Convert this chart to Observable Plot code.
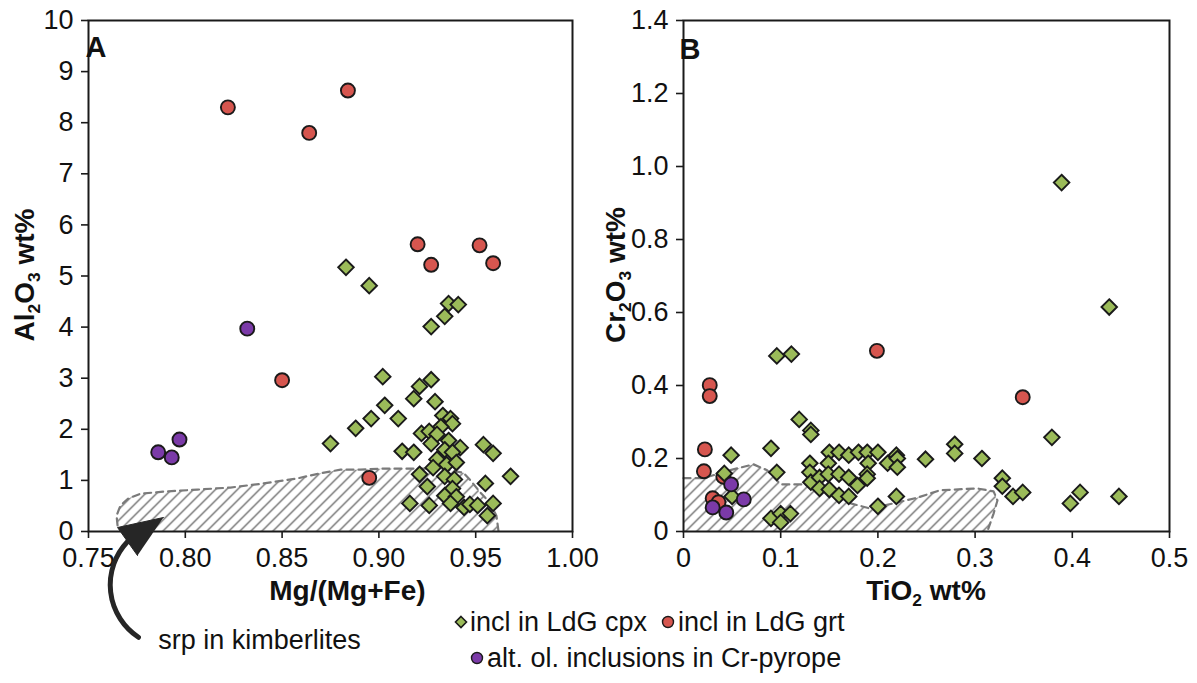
<!DOCTYPE html>
<html>
<head>
<meta charset="utf-8">
<script src="https://cdn.jsdelivr.net/npm/d3@7"></script>
<script src="https://cdn.jsdelivr.net/npm/@observablehq/plot@0.6"></script>
<style>
  html, body { margin: 0; padding: 0; background: #fff; }
  body { font-family: "Liberation Sans", Arial, Helvetica, sans-serif; color: #111; }
  #wrap { position: relative; width: 1197px; height: 683px; overflow: hidden; }
  #panelA { position: absolute; left: 0; top: 0; }
  #panelB { position: absolute; left: 600px; top: 0; }
  .lgt { position: absolute; font-size: 27px; line-height: 30px; white-space: nowrap; z-index: 5; }
  .lgi { position: absolute; z-index: 5; }
</style>
</head>
<body>
<div id="wrap">
  <div id="panelA"></div>
  <div id="panelB"></div>
  <svg class="lgi" style="left:454px;top:615px" width="14" height="14"><path d="M7 1.5 L12.5 7 L7 12.5 L1.5 7Z" fill="#9bbb59" stroke="#1a1a1a" stroke-width="1.6"/></svg>
  <span class="lgt" style="left:470px;top:607px">incl in LdG cpx</span>
  <svg class="lgi" style="left:661px;top:615px" width="14" height="14"><circle cx="7" cy="7" r="5.5" fill="#d6564f" stroke="#1a1a1a" stroke-width="1.4"/></svg>
  <span class="lgt" style="left:678px;top:607px">incl in LdG grt</span>
  <svg class="lgi" style="left:470px;top:651px" width="14" height="14"><circle cx="7" cy="7" r="5.5" fill="#7b3aa8" stroke="#1a1a1a" stroke-width="1.4"/></svg>
  <span class="lgt" style="left:487px;top:643px">alt. ol. inclusions in Cr-pyrope</span>
</div>
<script>
// ---------------- DATA ----------------
// Panel A: Mg/(Mg+Fe) vs Al2O3 wt%
const cpxA = [
  [0.883,5.17],[0.895,4.81],[0.936,4.46],[0.941,4.44],[0.934,4.21],[0.927,4.01],
  [0.902,3.03],[0.927,2.97],[0.921,2.84],[0.918,2.60],[0.929,2.54],[0.903,2.47],
  [0.896,2.21],[0.910,2.21],[0.888,2.02],[0.875,1.72],
  [0.933,2.27],[0.937,2.21],[0.938,2.11],[0.932,2.05],[0.922,1.92],[0.926,1.96],
  [0.930,1.90],[0.927,1.72],[0.936,1.78],[0.942,1.64],[0.934,1.60],[0.938,1.55],
  [0.954,1.70],[0.959,1.53],[0.912,1.57],[0.918,1.55],[0.930,1.41],[0.928,1.25],
  [0.935,1.31],[0.940,1.35],[0.921,1.12],[0.934,1.08],[0.939,1.02],[0.968,1.08],
  [0.925,0.88],[0.938,0.84],[0.955,0.94],[0.916,0.55],[0.926,0.51],[0.934,0.70],
  [0.940,0.68],[0.937,0.55],[0.944,0.47],[0.947,0.53],[0.951,0.51],[0.959,0.55],
  [0.956,0.31]
];
const grtA = [
  [0.822,8.30],[0.884,8.63],[0.864,7.80],[0.920,5.62],[0.927,5.22],
  [0.952,5.60],[0.959,5.25],[0.850,2.96],[0.895,1.05]
];
const olA = [[0.832,3.97],[0.786,1.55],[0.793,1.45],[0.797,1.80]];
// serpentine field (srp in kimberlites), outline in data units
const srpEdgeA = [
  [0.765,0.12],[0.7645,0.31],[0.7665,0.51],[0.7707,0.65],[0.7769,0.74],[0.7887,0.78],
  [0.8063,0.82],[0.8233,0.86],[0.8404,0.94],[0.858,1.04],[0.8698,1.14],[0.8802,1.21],
  [0.8905,1.21],[0.9008,1.23],[0.9163,1.23],[0.9318,1.23],[0.9437,1.15],[0.9473,1.00],
  [0.9525,0.76],[0.9576,0.55],[0.9607,0.31],[0.9618,0.0]
];
const srpBaseA = [[0.766,0.0]];
// annotation arrow + label (data units)
const arrowShaftA = [{x1:0.7758, y1:-2.07, x2:0.7701, y2:-0.20}];
const arrowHeadA = [[0.7887,0.274],[0.765,0.078],[0.7753,-0.47]];
const noteA = [{x:0.786, y:-2.13, text:"srp in kimberlites"}];

const xTicksA = [0.75,0.80,0.85,0.90,0.95,1.00];
const yTicksA = [0,1,2,3,4,5,6,7,8,9,10];

// Panel B: TiO2 wt% vs Cr2O3 wt%
const cpxB = [
  [0.389,0.956],[0.438,0.615],[0.379,0.258],
  [0.096,0.481],[0.111,0.486],[0.119,0.307],[0.131,0.277],[0.131,0.266],
  [0.090,0.228],[0.049,0.209],[0.042,0.159],[0.050,0.096],[0.096,0.162],
  [0.090,0.036],[0.100,0.049],[0.110,0.049],[0.100,0.025],
  [0.150,0.217],[0.160,0.217],[0.170,0.209],[0.180,0.217],[0.189,0.217],[0.200,0.217],
  [0.149,0.187],[0.130,0.187],[0.130,0.162],[0.131,0.135],[0.140,0.148],[0.149,0.157],
  [0.160,0.157],[0.170,0.148],[0.179,0.126],[0.140,0.118],[0.150,0.115],[0.160,0.099],
  [0.170,0.096],[0.190,0.187],[0.189,0.157],[0.189,0.146],[0.210,0.187],[0.219,0.209],
  [0.220,0.200],[0.220,0.176],[0.219,0.096],[0.200,0.069],
  [0.249,0.198],[0.279,0.239],[0.279,0.214],[0.307,0.200],[0.328,0.146],[0.328,0.124],
  [0.339,0.096],[0.349,0.107],[0.398,0.077],[0.408,0.107],[0.448,0.096]
];
const grtB = [
  [0.027,0.401],[0.027,0.371],[0.199,0.495],[0.022,0.225],[0.021,0.165],
  [0.041,0.150],[0.030,0.091],[0.036,0.080],[0.349,0.368]
];
const olB = [[0.049,0.129],[0.062,0.088],[0.030,0.066],[0.044,0.052]];
const srpEdgeB = [
  [0.0,0.146],[0.0206,0.146],[0.048,0.168],[0.072,0.184],[0.086,0.168],[0.100,0.129],
  [0.123,0.129],[0.151,0.113],[0.172,0.077],[0.192,0.063],[0.216,0.077],[0.241,0.093],
  [0.264,0.113],[0.302,0.118],[0.319,0.110],[0.323,0.085],[0.319,0.049],[0.313,0.003]
];
const srpBaseB = [[0.313,0.0],[0.0,0.0]];

const xTicksB = [0,0.1,0.2,0.3,0.4,0.5];
const yTicksB = [0,0.2,0.4,0.6,0.8,1.0,1.2,1.4];

// ---------------- STYLE ----------------
const FONT = "'Liberation Sans', Arial, Helvetica, sans-serif";
const GREEN = "#9bbb59", RED = "#d6564f", PURPLE = "#7b3aa8", INK = "#1a1a1a";
const fmtB = d => d === 0 ? "0" : d.toFixed(1);

function points(data, fill, symbol) {
  return Plot.dot(data, {x: d => d[0], y: d => d[1], r: 7, symbol, fill, stroke: INK, strokeWidth: 1.9});
}

function addHatch(svg, id) {
  const defs = d3.select(svg).insert("defs", ":first-child");
  const p = defs.append("pattern").attr("id", id).attr("patternUnits", "userSpaceOnUse")
    .attr("width", 11).attr("height", 11);
  p.append("path").attr("d", "M-2,13 L13,-2 M-2,2 L2,-2 M9,13 L13,9")
    .attr("stroke", "#444").attr("stroke-width", 1.1).attr("fill", "none");
}

function addTitle(svg, x, y, rotate, parts, size, weight) {
  const t = d3.select(svg).append("text")
    .attr("transform", `translate(${x},${y})` + (rotate ? ` rotate(${rotate})` : ""))
    .attr("text-anchor", "middle").attr("font-family", FONT)
    .attr("font-size", size).attr("font-weight", weight).attr("fill", "#111");
  let shifted = false;
  parts.forEach(([s, sub]) => {
    const ts = t.append("tspan").text(s);
    if (sub) { ts.attr("font-size", size * 0.62).attr("dy", shifted ? 0 : size * 0.22); shifted = true; }
    else { if (shifted) ts.attr("dy", -size * 0.22); shifted = false; }
  });
}
function addLetter(svg, x, y, s) {
  d3.select(svg).append("text").attr("x", x).attr("y", y).attr("font-family", FONT)
    .attr("font-size", 29).attr("font-weight", "bold").attr("fill", "#111").text(s);
}

// ---------------- PANEL A ----------------
const plotA = Plot.plot({
  width: 600, height: 683,
  marginLeft: 88, marginRight: 28, marginTop: 20, marginBottom: 152,
  style: {fontFamily: FONT, fontSize: "28px", color: "#111", background: "transparent", overflow: "visible"},
  x: {domain: [0.75, 1.0]},
  y: {domain: [0, 10]},
  marks: [
    Plot.line(srpEdgeA.concat(srpBaseA), {x: d => d[0], y: d => d[1], fill: "url(#hatchA)", stroke: "none"}),
    Plot.line(srpEdgeA, {x: d => d[0], y: d => d[1], stroke: "#7a7a7a", strokeWidth: 2.2, strokeDasharray: "7,5"}),
    points(grtA, RED, "circle"),
    points(cpxA, GREEN, "diamond2"),
    points(olA, PURPLE, "circle"),
    Plot.frame({stroke: INK, strokeWidth: 2}),
    Plot.axisX(xTicksA, {tickFormat: d3.format(".2f"), tickSize: 7, tickPadding: 9, label: null, fontSize: 27, stroke: INK, strokeWidth: 1.6}),
    Plot.axisY(yTicksA, {tickFormat: d => String(d), tickSize: 7, tickPadding: 8, label: null, fontSize: 27, stroke: INK, strokeWidth: 1.6}),
    Plot.arrow(arrowShaftA, {x1: "x1", y1: "y1", x2: "x2", y2: "y2", bend: 50, headLength: 0, stroke: "#262626", strokeWidth: 5}),
    Plot.line(arrowHeadA, {x: d => d[0], y: d => d[1], fill: "#262626", stroke: "#262626", strokeWidth: 1}),
    Plot.text(noteA, {x: "x", y: "y", text: "text", textAnchor: "start", lineAnchor: "middle", fontSize: 27, fill: "#111"})
  ]
});
addHatch(plotA, "hatchA");
{
  const sx = plotA.scale("x");
  addTitle(plotA, sx.apply(0.884), 600, 0, [["Mg/(Mg+Fe)"]], 28, "bold");
  addTitle(plotA, 34, 275, -90, [["Al"],["2",1],["O"],["3",1],[" wt%"]], 28, "bold");
  addLetter(plotA, 96, 57, "A");
}
document.getElementById("panelA").appendChild(plotA);

// ---------------- PANEL B ----------------
const plotB = Plot.plot({
  width: 597, height: 683,
  marginLeft: 83, marginRight: 28, marginTop: 20, marginBottom: 152,
  style: {fontFamily: FONT, fontSize: "28px", color: "#111", background: "transparent", overflow: "visible"},
  x: {domain: [0, 0.5]},
  y: {domain: [0, 1.4]},
  marks: [
    Plot.line(srpEdgeB.concat(srpBaseB), {x: d => d[0], y: d => d[1], fill: "url(#hatchB)", stroke: "none"}),
    Plot.line(srpEdgeB, {x: d => d[0], y: d => d[1], stroke: "#7a7a7a", strokeWidth: 2.2, strokeDasharray: "7,5"}),
    points(grtB, RED, "circle"),
    points(cpxB, GREEN, "diamond2"),
    points(olB, PURPLE, "circle"),
    Plot.frame({stroke: INK, strokeWidth: 2}),
    Plot.axisX(xTicksB, {tickFormat: fmtB, tickSize: 7, tickPadding: 9, label: null, fontSize: 27, stroke: INK, strokeWidth: 1.6}),
    Plot.axisY(yTicksB, {tickFormat: fmtB, tickSize: 7, tickPadding: 8, label: null, fontSize: 27, stroke: INK, strokeWidth: 1.6})
  ]
});
addHatch(plotB, "hatchB");
{
  const sx = plotB.scale("x");
  addTitle(plotB, sx.apply(0.25), 600, 0, [["TiO"],["2",1],[" wt%"]], 28, "bold");
  addTitle(plotB, 25, 275, -90, [["Cr"],["2",1],["O"],["3",1],[" wt%"]], 28, "bold");
  addLetter(plotB, 90, 59, "B");
}
document.getElementById("panelB").appendChild(plotB);
</script>
</body>
</html>
